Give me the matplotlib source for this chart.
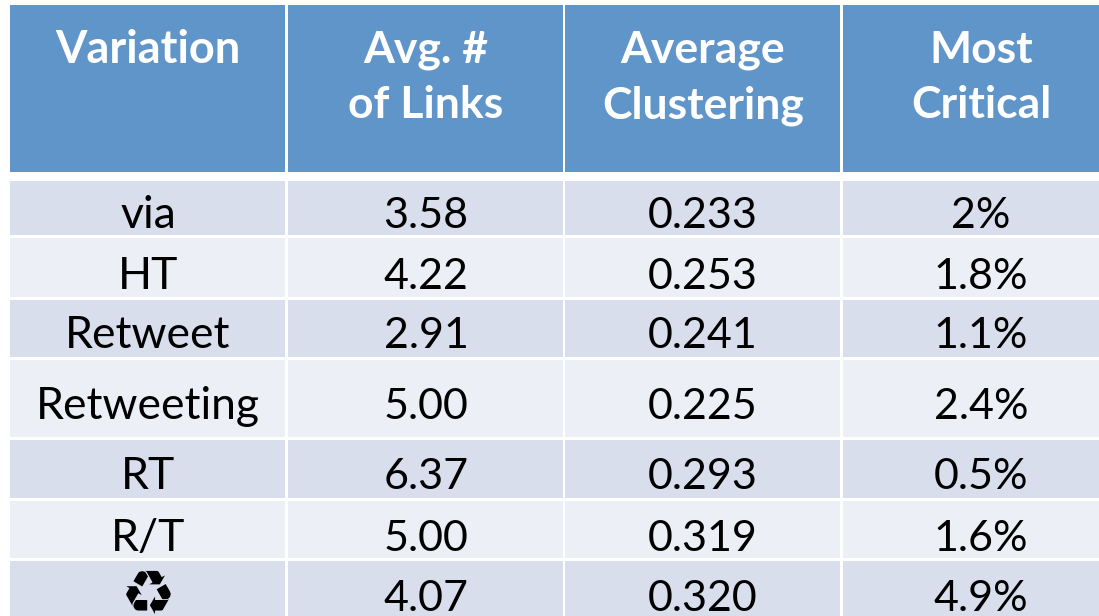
## table of retweet variations
import matplotlib
matplotlib.use('Agg')
import matplotlib.pyplot as plt
from matplotlib.patches import Rectangle

# table content
header = [['Variation'], ['Avg. #', 'of Links'], ['Average', 'Clustering'], ['Most', 'Critical']]
variations = ['via', 'HT', 'Retweet', 'Retweeting', 'RT', 'R/T', '\u267b']
avg_links = ['3.58', '4.22', '2.91', '5.00', '6.37', '5.00', '4.07']
avg_clustering = ['0.233', '0.253', '0.241', '0.225', '0.293', '0.319', '0.320']
most_critical = ['2%', '1.8%', '1.1%', '2.4%', '0.5%', '1.6%', '4.9%']

# layout in picture pixels
col_spans = [(10, 285), (288, 563), (565, 840), (843, 1099)]
text_centers = [148, 426, 703, 981]
header_span = (5, 172)
header_baselines = [63, 118]
row_spans = [(181, 235), (238, 297), (300, 357), (360, 437), (440, 498), (501, 558), (561, 616)]
row_baselines = [228, 289, 348, 419, 489, 551, 611]

HEAD_COLOR = '#5F95C9'
BAND_DARK = '#D9DEEC'
BAND_LIGHT = '#ECEFF5'

plt.rcParams['font.family'] = ['Lato', 'DejaVu Sans']

fig = plt.figure(figsize=(10.99, 6.16), dpi=100)
ax = fig.add_axes([0, 0, 1, 1])
ax.set_xlim(0, 1099)
ax.set_ylim(616, 0)
ax.axis('off')

columns = [variations, avg_links, avg_clustering, most_critical]

for c, (left, right) in enumerate(col_spans):
    center = text_centers[c]
    top, bottom = header_span
    ax.add_patch(Rectangle((left, top), right - left, bottom - top, facecolor=HEAD_COLOR, edgecolor='none'))
    for line, base in zip(header[c], header_baselines):
        ax.text(center, base, line, color='white', fontsize=32.5 if c == 0 else 32, fontweight='bold',
                ha='center', va='baseline')

    for r, (top, bottom) in enumerate(row_spans):
        color = BAND_DARK if r % 2 == 0 else BAND_LIGHT
        ax.add_patch(Rectangle((left, top), right - left, bottom - top, facecolor=color, edgecolor='none'))
        label = columns[c][r]
        if label == '\u267b':
            # recycling sign, drawn larger than the text around it
            ax.text(center, 614, label, color='black', fontsize=44, family='DejaVu Sans', ha='center', va='baseline')
        else:
            ax.text(center, row_baselines[r], label, color='black', fontsize=32 if c == 0 else 31,
                    ha='center', va='baseline')

fig.savefig('out.png', dpi=100, facecolor='white')
